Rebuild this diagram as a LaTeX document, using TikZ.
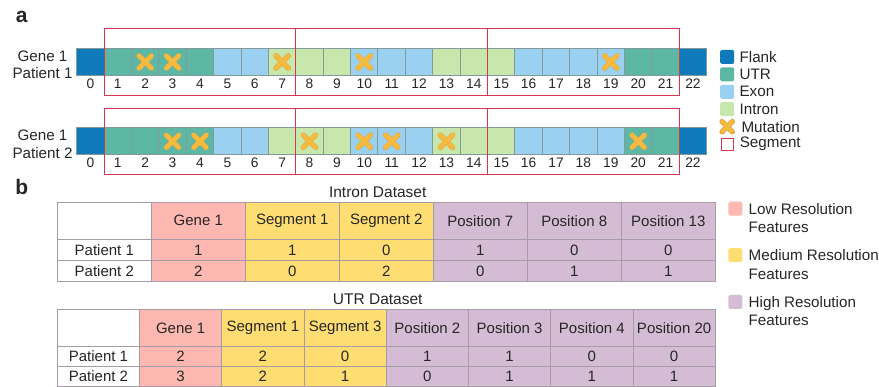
\documentclass[tikz,border=0pt]{standalone}
\usepackage{fontspec}
\setmainfont{Liberation Sans}
\usepackage{tikz}
\usetikzlibrary{positioning, fit, shapes.misc}
\definecolor{gflank}{HTML}{0E7ABA}
\definecolor{gutr}{HTML}{5CB8A5}
\definecolor{gexon}{HTML}{9AD1F1}
\definecolor{gintron}{HTML}{C8E7AC}
\definecolor{cellline}{HTML}{86999A}
\definecolor{mutcol}{HTML}{F6BA3E}
\definecolor{mutedge}{HTML}{D9A443}
\definecolor{segred}{HTML}{D4374B}
\definecolor{lowfill}{HTML}{FDB8B1}
\definecolor{midfill}{HTML}{FEDD72}
\definecolor{highfill}{HTML}{D4BDD4}
\definecolor{gridcol}{HTML}{A69CA6}
\definecolor{txtcol}{HTML}{262626}

\begin{document}
\begin{tikzpicture}[
    x=1pt, y=-1pt,
    cell/.style={rectangle, draw=cellline, line width=1pt, minimum width=27.39pt, minimum height=27.4pt, inner sep=0pt, outer sep=0pt},
    numlab/.style={font=\fontsize{13.8}{15}\selectfont, text=txtcol, inner sep=1pt, text height=10pt, text depth=0pt},
    genelab/.style={font=\fontsize{15.2}{17.3}\selectfont, align=center, text=txtcol, inner sep=1pt},
    segbox/.style={rectangle, draw=segred, line width=0.9pt, inner xsep=0pt, inner ysep=19.4pt},
    mutx/.style={cross out, draw=mutcol, line width=4.4pt, line cap=round, minimum size=8pt, inner sep=0pt, preaction={draw=mutedge, line width=5.2pt}},
    legsq/.style={rectangle, rounded corners=1.5pt, minimum size=14pt, inner sep=0pt},
    legtext/.style={font=\fontsize{15.2}{18.4}\selectfont, align=left, text=txtcol, inner sep=1pt},
    panel/.style={font=\fontsize{21}{24}\selectfont\bfseries, text=txtcol},
    tcell/.style={rectangle, draw=gridcol, line width=0.6pt, inner sep=0pt, outer sep=0pt, font=\fontsize{15}{17}\selectfont, text=txtcol},
    titlelab/.style={font=\fontsize{15.5}{17}\selectfont, text=txtcol}
]
\useasboundingbox (0,0) rectangle (879,387);

% panel a: two gene tracks
\node[panel] (pa) at (21.7,17) {a};
\foreach \t [count=\i from 0] in {flank,utr,utr,utr,utr,exon,exon,intron,intron,intron,exon,exon,exon,intron,intron,intron,exon,exon,exon,exon,utr,utr,flank} {
  \node[cell, fill=g\t] (r1c\i) at ({90.4+27.39*\i},62) {};
  \node[cell, fill=g\t] (r2c\i) at ({90.4+27.39*\i},141.3) {};
  \node[numlab, below=1.2pt of r1c\i] (n1\i) {\i};
  \node[numlab, below=1.2pt of r2c\i] (n2\i) {\i};
}
\node[genelab, left=3pt of r1c0, yshift=-3pt] (g1) {Gene 1\\Patient 1};
\node[genelab, left=3pt of r2c0, yshift=-3pt] (g2) {Gene 1\\Patient 2};

% segments
\node[segbox, fit=(r1c1)(r1c7)] (s11) {};
\node[segbox, fit=(r1c8)(r1c14)] (s12) {};
\node[segbox, fit=(r1c15)(r1c21)] (s13) {};
\node[segbox, fit=(r2c1)(r2c7)] (s21) {};
\node[segbox, fit=(r2c8)(r2c14)] (s22) {};
\node[segbox, fit=(r2c15)(r2c21)] (s23) {};

% mutations
\draw[line width=0.5pt, black!60] (r1c2) -- (r1c3);
\foreach \i in {2,3,7,10,19}
  \node[mutx] (m1\i) at (r1c\i) {};
\foreach \i in {3,4,8,10,11,13,20}
  \node[mutx] (m2\i) at (r2c\i) {};

% legend a
\foreach \lab/\col [count=\k from 0] in {Flank/gflank, UTR/gutr, Exon/gexon, Intron/gintron} {
  \node[legsq, fill=\col] (la\k) at (727.2,{56.9+17.45*\k}) {};
  \node[legtext, right=4pt of la\k] (lat\k) {\lab};
}
\node[mutx, line width=3.8pt, minimum size=6.5pt, preaction={draw=mutedge, line width=4.4pt}] (la4) at (727.2,126.7) {};
\node[legtext, right=8pt of la4] (lat4) {Mutation};
\node[rectangle, draw=segred, fill=white, line width=0.9pt, minimum size=12pt, inner sep=0pt] (la5) at (727.2,144.2) {};
\node[legtext, right=5pt of la5] (lat5) {Segment};

% panel b: feature tables
\node[panel] (pb) at (21.7,187.3) {b};
\node[titlelab] (intitle) at (377.7,192.7) {Intron Dataset};
\foreach \lab/\col/\p/\q [count=\c from 0] in {{}/white/Patient 1/Patient 2, Gene 1/lowfill/1/2, Segment 1/midfill/1/0, Segment 2/midfill/0/2, Position 7/highfill/1/0, Position 8/highfill/0/1, Position 13/highfill/0/1} {
  \node[tcell, fill=\col, minimum width=94pt, minimum height=37.3pt, anchor=north west] (ih\c) at ({57.3+94*\c},202) {\lab};
  \node[tcell, fill=\col, minimum width=94pt, minimum height=21.2pt, below=0pt of ih\c] (ia\c) {\p};
  \node[tcell, fill=\col, minimum width=94pt, minimum height=21.2pt, below=0pt of ia\c] (ib\c) {\q};
}

\node[titlelab] (utrtitle) at (377.7,299.3) {UTR Dataset};
\foreach \lab/\col/\p/\q [count=\c from 0] in {{}/white/Patient 1/Patient 2, Gene 1/lowfill/2/3, Segment 1/midfill/2/2, Segment 3/midfill/0/1, Position 2/highfill/1/0, Position 3/highfill/1/1, Position 4/highfill/0/1, Position 20/highfill/0/1} {
  \node[tcell, fill=\col, minimum width=82.24pt, minimum height=37.4pt, anchor=north west] (uh\c) at ({57.3+82.24*\c},309.3) {\lab};
  \node[tcell, fill=\col, minimum width=82.24pt, minimum height=19.8pt, below=0pt of uh\c] (ua\c) {\p};
  \node[tcell, fill=\col, minimum width=82.24pt, minimum height=19.8pt, below=0pt of ua\c] (ub\c) {\q};
}

% legend b
\node[legsq, fill=lowfill] (lbl) at (735.3,208.7) {};
\node[legsq, fill=midfill] (lbm) at (735.3,255.2) {};
\node[legsq, fill=highfill] (lbh) at (735.3,302) {};
\node[legtext, anchor=west] (lblt) at ([xshift=5pt, yshift=-9.2pt]lbl.east) {Low Resolution\\Features};
\node[legtext, anchor=west] (lbmt) at ([xshift=5pt, yshift=-9.2pt]lbm.east) {Medium Resolution\\Features};
\node[legtext, anchor=west] (lbht) at ([xshift=5pt, yshift=-9.2pt]lbh.east) {High Resolution\\Features};
\end{tikzpicture}
\end{document}
